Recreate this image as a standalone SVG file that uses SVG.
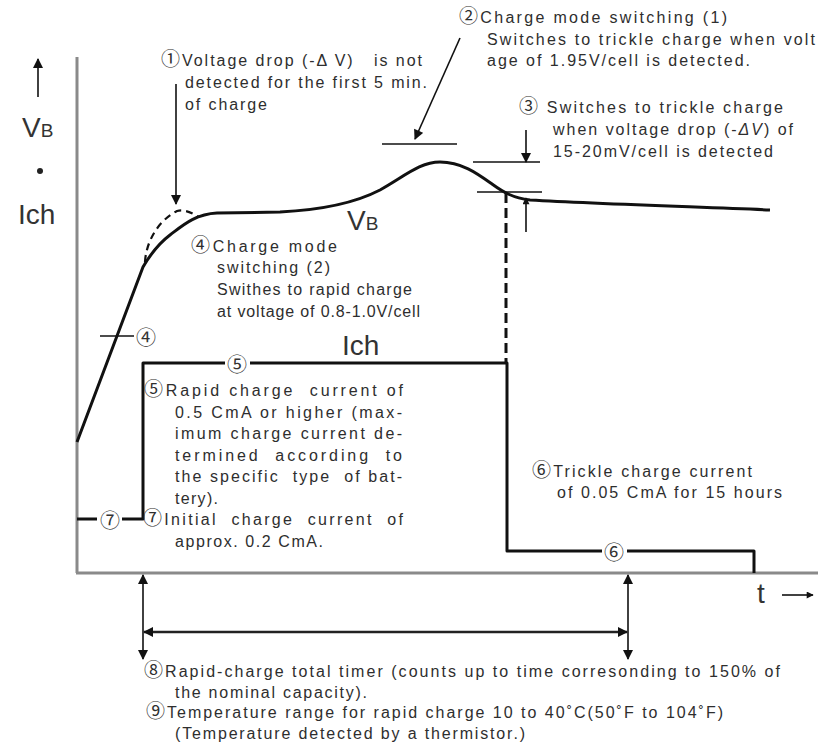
<svg xmlns="http://www.w3.org/2000/svg" width="818" height="745" viewBox="0 0 818 745">
<style>
.t{font-family:"Liberation Sans","Noto Sans CJK JP",sans-serif;font-size:16px;fill:#2e2e2e;white-space:pre}
.c{font-family:"Noto Sans CJK JP","Liberation Sans",sans-serif;font-size:19px}
.big{font-family:"Liberation Sans",Arial,sans-serif;font-size:28px;fill:#333}
.mk{font-family:"Noto Sans CJK JP","Liberation Sans",sans-serif;font-size:20px;fill:#333;text-anchor:middle;dominant-baseline:central}
.axis{stroke:#8a8a8a;stroke-width:3;fill:none}
.curve{stroke:#111;stroke-width:3;fill:none;stroke-linejoin:round}
.thin{stroke:#111;stroke-width:1.6;fill:none}
.dash{stroke:#111;stroke-width:2.2;fill:none;stroke-dasharray:7 5}
</style>
<defs>
<marker id="ah" viewBox="0 0 10 10" refX="9" refY="5" markerWidth="12" markerHeight="10" markerUnits="userSpaceOnUse" orient="auto-start-reverse">
<path d="M0,0 L10,5 L0,10 z" fill="#111"/>
</marker>
<marker id="ahs" viewBox="0 0 10 10" refX="9" refY="5" markerWidth="8" markerHeight="7" markerUnits="userSpaceOnUse" orient="auto-start-reverse">
<path d="M0,0 L10,5 L0,10 z" fill="#111"/>
</marker>
</defs>
<rect width="818" height="745" fill="#fff"/>

<g id="axes">
<line class="axis" x1="77" y1="57" x2="77" y2="573"/>
<line class="axis" x1="76" y1="573" x2="818" y2="573"/>
<line class="thin" x1="38" y1="97" x2="38" y2="59" marker-end="url(#ah)"/>
<text class="big" x="22" y="137">V<tspan font-size="19">B</tspan></text>
<circle cx="40" cy="171" r="3" fill="#222"/>
<text class="big" x="18" y="224" font-size="30">Ich</text>
<text class="big" x="757" y="603" font-size="26">t</text>
<line class="thin" x1="782" y1="595" x2="813" y2="595" marker-end="url(#ahs)"/>
</g>

<g id="vb-curve">
<path class="curve" d="M77,442 L143,267 C150,255 158,244 170,235 C182,226 195,214 217,213 L280,212 C320,210 355,203 380,190 C405,176 420,162 440,162 C462,162 478,174 492,184 C503,192 513,198 530,200 C600,204 700,207 770,210"/>
<path class="dash" d="M145,262 C146,244 156,222 177,211 C185,209 192,213 199,217"/>
<text class="big" x="347" y="230">V<tspan font-size="19">B</tspan></text>
</g>

<g id="ich-curve">
<path class="curve" d="M77,519 L97,519 M122,519 L143,519 L143,363 L225,363 M250,363 L507,363 L507,551 L602,551 M627,551 L754,551 L754,573"/>
<path class="curve" d="M506,193 L506,363" stroke-dasharray="10 5"/>
<text class="big" x="342" y="355" font-size="30">Ich</text>
<text class="mk" x="110" y="519">⑦</text>
<text class="mk" x="237" y="363">⑤</text>
<text class="mk" x="614" y="551">⑥</text>
</g>

<g id="connectors">
<line class="thin" x1="176" y1="84" x2="176" y2="204" marker-end="url(#ah)"/>
<line class="thin" x1="460" y1="38" x2="415" y2="139" marker-end="url(#ah)"/>
<line class="thin" x1="382" y1="144" x2="457" y2="144"/>
<line class="thin" x1="473" y1="162" x2="540" y2="162"/>
<line class="thin" x1="526" y1="130" x2="526" y2="162" marker-end="url(#ah)"/>
<line class="thin" x1="477" y1="192" x2="542" y2="192"/>
<line class="thin" x1="526" y1="232" x2="526" y2="198" marker-end="url(#ahs)"/>
<line class="thin" x1="100" y1="336" x2="134" y2="336"/>
<text class="mk" x="146" y="336">④</text>
<line class="thin" x1="143" y1="575" x2="143" y2="659" marker-start="url(#ah)" marker-end="url(#ah)"/>
<line class="thin" x1="628" y1="575" x2="628" y2="659" marker-start="url(#ah)" marker-end="url(#ah)"/>
<line x1="144" y1="632" x2="627" y2="632" stroke="#222" stroke-width="2.4" marker-start="url(#ah)" marker-end="url(#ah)"/>
</g>

<g id="note1">
<text class="t" x="161" y="66" textLength="261"><tspan class="c">①</tspan>Voltage drop (-Δ V)   is not</text>
<text class="t" x="185" y="88" textLength="242">detected for the first 5 min.</text>
<text class="t" x="185" y="110" textLength="82">of charge</text>
</g>

<g id="note2">
<text class="t" x="459" y="23" textLength="268"><tspan class="c">②</tspan>Charge mode switching (1)</text>
<text class="t" x="487" y="45" textLength="328">Switches to trickle charge when volt</text>
<text class="t" x="487" y="66" textLength="263">age of 1.95V/cell is detected.</text>
</g>

<g id="note3">
<text class="t" x="519" y="113" textLength="264"><tspan class="c">③</tspan> Switches to trickle charge</text>
<text class="t" x="553" y="135" textLength="240">when voltage drop (-<tspan font-style="italic">ΔV</tspan>) of</text>
<text class="t" x="553" y="157" textLength="220">15-20mV/cell is detected</text>
</g>

<g id="note4">
<text class="t" x="191" y="252" textLength="146"><tspan class="c">④</tspan>Charge mode</text>
<text class="t" x="217" y="273" textLength="113">switching (2)</text>
<text class="t" x="217" y="295" textLength="195">Swithes to rapid charge</text>
<text class="t" x="217" y="317" textLength="203">at voltage of 0.8-1.0V/cell</text>
</g>

<g id="note5">
<text class="t" x="144" y="396" textLength="259"><tspan class="c">⑤</tspan>Rapid charge  current of</text>
<text class="t" x="175" y="418" textLength="227">0.5 CmA or higher (max-</text>
<text class="t" x="175" y="439" textLength="227">imum charge current de-</text>
<text class="t" x="175" y="461" textLength="227">termined  according  to</text>
<text class="t" x="175" y="482" textLength="227">the specific  type  of bat-</text>
<text class="t" x="175" y="504" textLength="43">tery).</text>
</g>

<g id="note7">
<text class="t" x="143" y="525" textLength="260"><tspan class="c">⑦</tspan>Initial  charge  current  of</text>
<text class="t" x="175" y="547" textLength="148">approx. 0.2 CmA.</text>
</g>

<g id="note6">
<text class="t" x="532" y="477" textLength="220"><tspan class="c">⑥</tspan>Trickle charge current</text>
<text class="t" x="557" y="498" textLength="225">of 0.05 CmA for 15 hours</text>
</g>

<g id="note8">
<text class="t" x="144" y="677" textLength="636"><tspan class="c">⑧</tspan>Rapid-charge total timer (counts up to time corresonding to 150% of</text>
<text class="t" x="175" y="698" textLength="192">the nominal capacity).</text>
</g>

<g id="note9">
<text class="t" x="146" y="718" textLength="577"><tspan class="c">⑨</tspan>Temperature range for rapid charge 10 to 40˚C(50˚F to 104˚F)</text>
<text class="t" x="175" y="739" textLength="350">(Temperature detected by a thermistor.)</text>
</g>
</svg>
